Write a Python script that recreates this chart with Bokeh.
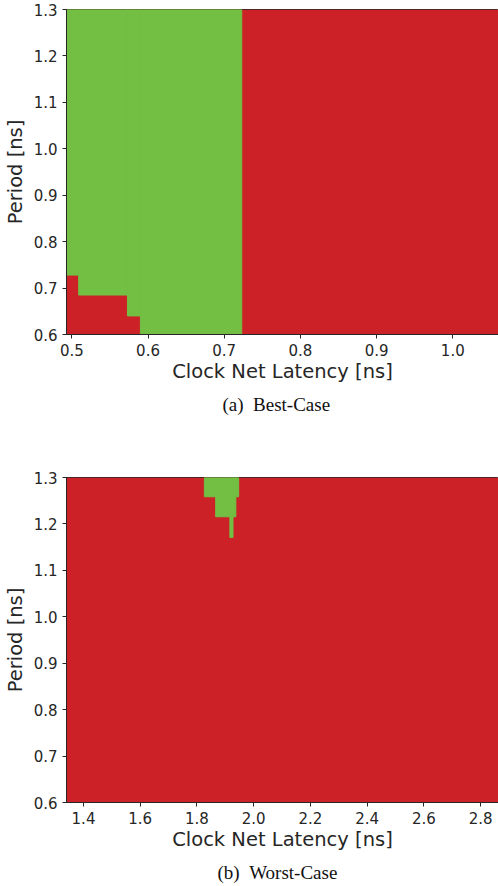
from bokeh.plotting import figure
from bokeh.models import Range1d, FixedTicker, Title
from bokeh.layouts import column
from bokeh.embed import file_html
from bokeh.resources import INLINE

# ---- data ----
period_range = [0.6, 1.3]
period_ticks = [0.6, 0.7, 0.8, 0.9, 1.0, 1.1, 1.2, 1.3]
period_tick_labels = ["0.6", "0.7", "0.8", "0.9", "1.0", "1.1", "1.2", "1.3"]

# Best case: latency column edges and the smallest period that passes in each column
best_lat_edges = [0.493, 0.509, 0.573, 0.590, 0.723, 1.060]
best_min_pass = [0.728, 0.685, 0.640, 0.600, None]
best_x_ticks = [0.5, 0.6, 0.7, 0.8, 0.9, 1.0]
best_x_tick_labels = ["0.5", "0.6", "0.7", "0.8", "0.9", "1.0"]

# Worst case
worst_lat_edges = [1.340, 1.826, 1.866, 1.916, 1.927, 1.937, 1.947, 2.863]
worst_min_pass = [None, 1.2585, 1.2154, 1.171, 1.2154, 1.2585, None]
worst_x_ticks = [1.4, 1.6, 1.8, 2.0, 2.2, 2.4, 2.6, 2.8]
worst_x_tick_labels = ["1.4", "1.6", "1.8", "2.0", "2.2", "2.4", "2.6", "2.8"]

PASS = "#72BF44"
FAIL = "#CC2127"
INK = "#262626"


def make(lat_edges, min_pass, xticks, xlabels, caption, cap_offset, border_top, border_bottom):
    p = figure(frame_width=432, frame_height=325,
               output_backend="svg", toolbar_location=None,
               x_range=Range1d(lat_edges[0], lat_edges[-1]),
               y_range=Range1d(period_range[0], period_range[1]),
               min_border_left=66, min_border_right=0, min_border_top=border_top,
               min_border_bottom=border_bottom)
    p.xgrid.visible = False
    p.ygrid.visible = False
    p.outline_line_color = INK
    p.outline_line_width = 1

    # failing cells: whole swept grid, then passing cells painted on top
    p.quad(left=[lat_edges[0]], right=[lat_edges[-1]],
           bottom=[period_range[0]], top=[period_range[1]],
           fill_color=FAIL, line_color=None)
    gl, gr, gb, gt = [], [], [], []
    for i, mp in enumerate(min_pass):
        if mp is not None:
            gl.append(lat_edges[i]); gr.append(lat_edges[i + 1])
            gb.append(mp); gt.append(period_range[1])
    p.quad(left=gl, right=gr, bottom=gb, top=gt, fill_color=PASS, line_color=PASS, line_width=1)

    p.xaxis.ticker = FixedTicker(ticks=xticks)
    p.xaxis.major_label_overrides = {t: s for t, s in zip(xticks, xlabels)}
    p.yaxis.ticker = FixedTicker(ticks=period_ticks)
    p.yaxis.major_label_overrides = {t: s for t, s in zip(period_ticks, period_tick_labels)}
    p.xaxis.axis_label = "Clock Net Latency [ns]"
    p.yaxis.axis_label = "Period [ns]"
    for ax in (p.xaxis[0], p.yaxis[0]):
        ax.axis_line_color = INK
        ax.major_tick_line_color = INK
        ax.major_tick_out = 4
        ax.major_tick_in = 0
        ax.minor_tick_line_color = None
        ax.major_label_text_font = "DejaVu Sans"
        ax.major_label_text_font_size = "15px"
        ax.major_label_text_color = INK
        ax.major_label_standoff = 5
        ax.axis_label_text_font = "DejaVu Sans"
        ax.axis_label_text_font_size = "19.5px"
        ax.axis_label_text_font_style = "normal"
        ax.axis_label_text_color = INK
        ax.axis_label_standoff = 4
    p.xaxis.axis_label_standoff = 1
    p.add_layout(Title(text=caption, align="left", offset=cap_offset,
                       text_font="Liberation Serif", text_font_size="19px",
                       text_font_style="normal", text_color="#111111",
                       standoff=13), "below")
    return p


p1 = make(best_lat_edges, best_min_pass, best_x_ticks, best_x_tick_labels,
          "(a)\u2002Best-Case", 156, 9, 134)
p2 = make(worst_lat_edges, worst_min_pass, worst_x_ticks, worst_x_tick_labels,
          "(b)\u2002Worst-Case", 151, 9, 10)

layout = column(p1, p2, spacing=0)
open("out.html", "w").write(file_html(layout, INLINE))
